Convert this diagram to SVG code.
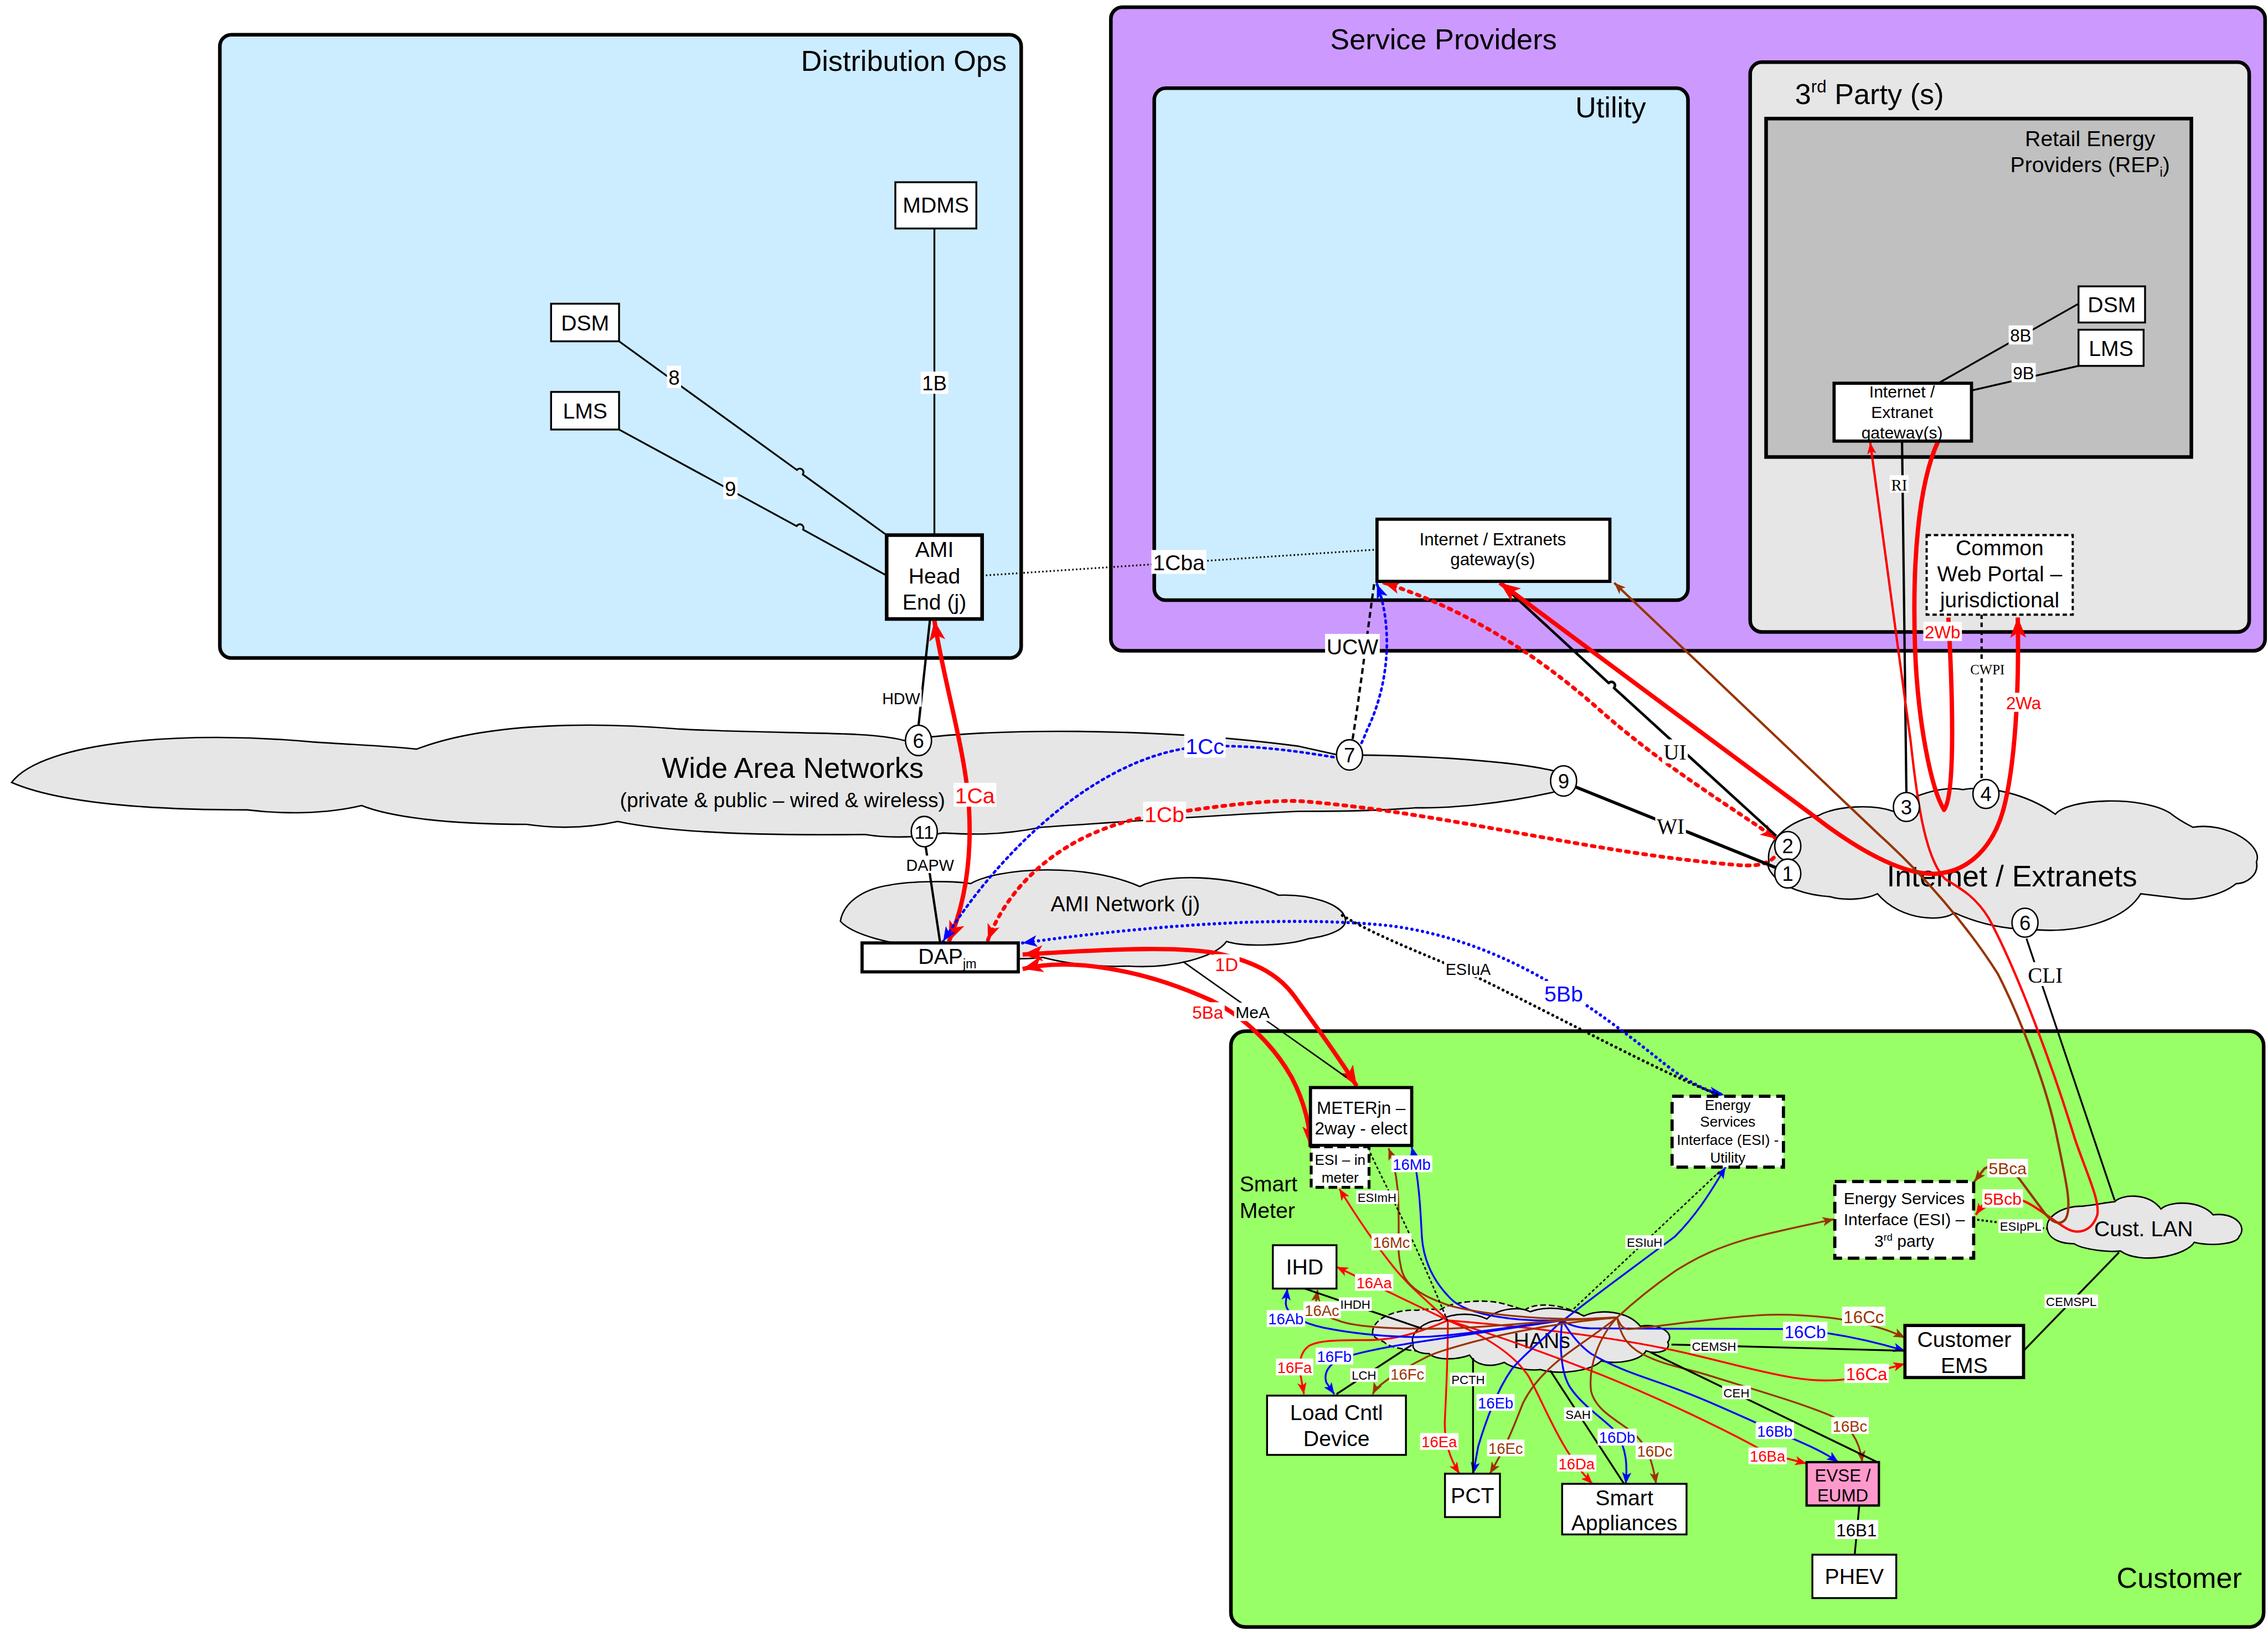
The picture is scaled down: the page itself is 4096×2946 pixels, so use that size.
<svg xmlns="http://www.w3.org/2000/svg" width="4096" height="2946" viewBox="0 0 4096 2946">
<defs>
<style>
text{font-family:"Liberation Sans",Arial,sans-serif;text-anchor:middle;fill:#000}
.sf{font-family:"Liberation Serif","Times New Roman",serif}
.st{text-anchor:start}
.en{text-anchor:end}
.bx{fill:#fff;stroke:#000;stroke-width:1.3}
.bt{fill:#fff;stroke:#000;stroke-width:2.2}
.bd{fill:#fff;stroke:#000;stroke-width:2.2;stroke-dasharray:8 4}
.cl{fill:#e6e6e6;stroke:#000;stroke-width:1}
.ct{stroke:#000;stroke-width:2.5}
.c{fill:none;stroke-linejoin:round}
.k{stroke:#000}.r{stroke:#f00}.b{stroke:#00f}.w{stroke:#930}
.t1{stroke-width:1.25}.t2{stroke-width:1.6}.t3{stroke-width:3}.tl{stroke-width:1.6}
.dt{stroke-dasharray:2 1.5;stroke-width:1}
.lb{fill:#fff}
.fr{fill:#f00}.fb{fill:#00f}.fw{fill:#930}
.nd{fill:#fff;stroke:#000;stroke-width:1}
</style>
<marker id="ar" viewBox="0 0 10 8" refX="10" refY="4" markerWidth="8" markerHeight="6.4" orient="auto-start-reverse" markerUnits="userSpaceOnUse"><path d="M0,0L10,4L0,8L2.5,4z" fill="#f00"/></marker>
<marker id="ab" viewBox="0 0 10 8" refX="10" refY="4" markerWidth="8" markerHeight="6.4" orient="auto-start-reverse" markerUnits="userSpaceOnUse"><path d="M0,0L10,4L0,8L2.5,4z" fill="#00f"/></marker>
<marker id="aw" viewBox="0 0 10 8" refX="10" refY="4" markerWidth="8" markerHeight="6.4" orient="auto-start-reverse" markerUnits="userSpaceOnUse"><path d="M0,0L10,4L0,8L2.5,4z" fill="#930"/></marker>
<marker id="AR" viewBox="0 0 10 8" refX="10" refY="4" markerWidth="14" markerHeight="11.2" orient="auto-start-reverse" markerUnits="userSpaceOnUse"><path d="M0,0L10,4L0,8L2.5,4z" fill="#f00"/></marker>
<marker id="RD" viewBox="0 0 10 8" refX="10" refY="4" markerWidth="11" markerHeight="8.8" orient="auto-start-reverse" markerUnits="userSpaceOnUse"><path d="M0,0L10,4L0,8L2.5,4z" fill="#f00"/></marker>
<marker id="BD" viewBox="0 0 10 8" refX="10" refY="4" markerWidth="10" markerHeight="8" orient="auto-start-reverse" markerUnits="userSpaceOnUse"><path d="M0,0L10,4L0,8L2.5,4z" fill="#00f"/></marker>
</defs>
<rect width="4096" height="2946" fill="#fff"/>
<g transform="scale(2.612245)">

<g id="containers">
<g id="distribution-ops"><rect x="152" y="24" width="554" height="431" rx="8" fill="#CCECFF" class="ct"/><text x="696" y="49" font-size="20" class="en">Distribution Ops</text></g>
<g id="service-providers"><rect x="768" y="5" width="798" height="445" rx="8" fill="#CC99FF" class="ct"/><text x="998" y="34" font-size="20">Service Providers</text></g>
<g id="utility"><rect x="798" y="61" width="369" height="354" rx="8" fill="#CCECFF" class="ct"/><text x="1138" y="81" font-size="20" class="en">Utility</text></g>
<g id="third-party"><rect x="1210" y="43" width="345" height="394" rx="8" fill="#E6E6E6" class="ct"/><text x="1241" y="72" font-size="20" class="st">3<tspan font-size="12" dy="-8">rd</tspan><tspan dy="8"> Party (s)</tspan></text></g>
<g id="rep"><rect x="1221" y="82" width="294" height="234" fill="#C0C0C0" class="ct"/><text x="1445" y="101" font-size="15">Retail Energy</text><text x="1445" y="119" font-size="15">Providers (REP<tspan font-size="9" dy="3">i</tspan><tspan dy="-3">)</tspan></text></g>
<g id="customer"><rect x="851" y="713" width="714" height="412" rx="10" fill="#99FF66" class="ct"/><text x="1550" y="1098" font-size="20" class="en">Customer</text><text x="857" y="824" font-size="15" class="st">Smart</text><text x="857" y="842" font-size="15" class="st">Meter</text></g>
</g>

<g id="clouds">
<g id="wan"><path class="cl" d="M8,541C30,512 130,505 216,513C245,515 270,516 288,518C340,498 420,500 468,504C540,508 600,505 625,512C680,503 800,503 898,516L925,522C990,522 1050,527 1074,533C1085,535 1092,541 1077,547C1040,556 1000,559 979,558.5C950,561 920,561 898,561C850,563 780,568 720,572C690,578 670,577 652,576C630,580 610,579 598,577C520,578 460,575 427,568C405,573 385,573 364,570C310,570 270,565 250,557C225,563 195,563 171,560C100,560 40,555 8,541Z"/>
<text x="548" y="538" font-size="20">Wide Area Networks</text><text x="541" y="558" font-size="14.2">(private &amp; public – wired &amp; wireless)</text></g>
<g id="internet"><path class="cl" d="M1223,596C1220,580 1240,566 1257,564C1270,557 1295,556 1309,561C1318,550 1345,543 1357,546C1372,543 1400,548 1421,563C1430,552 1480,550 1500,562C1505,566 1512,570 1516,572C1540,568 1565,585 1560,596C1562,605 1553,611 1546,611C1535,620 1515,623 1505,621L1480,618C1470,635 1440,645 1409,643C1390,643 1370,640 1351,631C1345,637 1315,638 1298,618C1290,622 1275,623 1265,620C1250,619 1232,614 1225,604C1222,600 1222,598 1223,596Z"/>
<text x="1391" y="613" font-size="20.5">Internet / Extranets</text></g>
<g id="ami-network"><path class="cl" d="M581,637C583,625 595,615 615,612C630,609 660,609 671,611C690,600 750,596 788,613C805,604 850,604 884,619C905,618 928,625 930,635C932,642 920,647 905,649C890,654 860,655 848,651C840,662 810,670 780,668C760,669 735,666 721,662C700,665 660,660 640,656C615,652 590,647 581,637Z"/>
<text x="778" y="630" font-size="15">AMI Network (j)</text></g>
<g id="hans"><path class="cl" stroke-dasharray="4 2" d="M949,922C948,912 965,905 980,906C985,905 992,905 995,906C1005,899 1030,898 1041,902C1046,903 1051,905 1054,906C1060,901 1075,901 1089,907C1098,910 1100,915 1098,920L1060,935L990,935C975,934 960,932 957,928C952,926 949,924 949,922Z"/>
<path class="cl" d="M977,929C974,922 985,913 995,913C1005,907 1020,908 1028,912C1035,905 1050,903 1058,907C1068,903 1085,904 1095,910C1105,905 1125,906 1134,917C1148,915 1158,922 1153,928C1156,934 1145,937 1138,934C1135,940 1120,944 1107,941C1100,948 1078,951 1065,947C1058,948 1045,946 1040,942C1030,946 1020,944 1016,937C1005,941 992,940 988,936C980,936 976,933 977,929Z"/>
<text x="1066" y="932" font-size="15">HANs</text></g>
<g id="cust-lan"><path class="cl" d="M1416,852C1412,842 1425,834 1440,834C1450,833 1458,831 1462,831C1466,826 1485,824 1494,836C1500,830 1522,830 1530,840C1545,838 1554,848 1548,855C1547,860 1530,862 1517,859C1512,868 1480,875 1466,865C1458,866 1440,864 1434,860C1425,860 1418,857 1416,852Z"/>
<text x="1482" y="855" font-size="15">Cust. LAN</text></g>
</g>

<g id="connectors">
<path class="c k t1" d="M646,158L646,370"/>
<path class="c k t1" d="M428,236L551,325A2.5,2.5 0 0 1 555,328L613,370"/>
<path class="c k t1" d="M428,297L550.8,363.8A2.5,2.5 0 0 1 555.2,366.2L613,398"/>
<path class="c k" stroke-width="1.2" stroke-dasharray="1 1.6" d="M679,398L952,380"/>
<path class="c k t1" d="M1340,265L1437,210"/>
<path class="c k t1" d="M1363,270L1437,253"/>
<path class="c k t2" d="M1315,305L1318,548"/>
<path class="c k t2" stroke-dasharray="3 2.5" d="M1370,425L1370,539"/>
<path class="c k t2" d="M643,428L635,502"/>
<path class="c k t2" d="M640,585.5L650,652"/>
<path class="c r t3" marker-start="url(#AR)" marker-end="url(#AR)" d="M646,429C652,470 668,520 670,560C672,600 665,630 656,651"/>
<path class="c b" stroke-width="1.8" stroke-dasharray="1.5 2.8" stroke-linecap="round" marker-start="url(#BD)" marker-end="url(#BD)" d="M952,404C962,430 962,470 945,505C940,518 936,526 925,524C900,520 870,515 833,516C760,520 690,590 652,651"/>
<path class="c k t2" stroke-dasharray="4 2.5" d="M950,404C945,440 940,480 935,512"/>
<path class="c r" stroke-width="2.6" stroke-dasharray="2 4" stroke-linecap="round" marker-start="url(#RD)" marker-end="url(#RD)" d="M957,403C1010,420 1060,450 1106,491C1150,530 1200,560 1228,580"/>
<path class="c r" stroke-width="2.6" stroke-dasharray="2 4" stroke-linecap="round" marker-start="url(#RD)" d="M683,650C700,605 745,570 805,563C850,556 880,553 900,554C1000,562 1100,590 1200,598C1220,600 1228,595 1230,586"/>
<path class="c k" stroke-width="1.8" d="M1037,403L1112.2,472.3A2.5,2.5 0 0 1 1115.9,475.7L1228,578"/>
<path class="c k" stroke-width="2.2" d="M1089,544L1228,600"/>
<path class="c r t3" marker-start="url(#AR)" marker-end="url(#AR)" d="M1037,403L1255,565C1290,592 1320,606 1340,604C1362,602 1378,585 1385,560C1393,530 1396,480 1395,427"/>
<path class="c r t3" marker-end="url(#AR)" d="M1340,305C1326,335 1322,390 1324,449C1326,500 1335,545 1344,560C1352,550 1350,480 1347,427"/>
<path class="c r tl" marker-start="url(#ar)" marker-end="url(#ar)" d="M1293,306L1321,513C1326,560 1332,595 1345,608C1355,614 1366,620 1375,635C1395,672 1420,740 1434,786C1442,810 1452,830 1450,840C1446,852 1436,854 1428,849C1418,843 1408,834 1398,830C1388,826 1376,828 1370,834L1366,840"/>
<path class="c w tl" marker-start="url(#aw)" marker-end="url(#aw)" d="M1116,403L1300,578C1330,605 1360,640 1381,673C1395,700 1415,750 1422,786C1428,815 1433,835 1428,843C1424,848 1418,845 1413,838L1396,815C1390,808 1380,804 1372,808L1365,817"/>
<path class="c k t1" d="M1401,649L1462,830"/>
<path class="c b" stroke-width="2.2" stroke-dasharray="0.1 3.6" stroke-linecap="round" marker-start="url(#BD)" marker-end="url(#BD)" d="M707,652C780,642 880,632 960,640C1040,650 1100,695 1150,735C1165,747 1180,755 1192,757"/>
<path class="c k" stroke-width="2" stroke-dasharray="0.1 3.4" stroke-linecap="round" d="M928,633C960,652 1000,665 1030,680C1100,715 1150,742 1188,757"/>
<path class="c r t3" marker-start="url(#AR)" marker-end="url(#AR)" d="M707,660C770,656 820,654 845,660C870,666 885,675 895,689C910,710 925,730 938,751"/>
<path class="c r t3" marker-start="url(#AR)" marker-end="url(#AR)" d="M707,670C740,662 790,670 838,692C862,704 882,725 893,745C902,762 906,780 906,793"/>
<path class="c k" stroke-width="1" d="M818,665L931,745"/>

<path class="c r t1" marker-end="url(#ar)" d="M1001,913C985,898 975,890 965,878C952,862 940,845 926,822"/>
<path class="c r t1" marker-end="url(#ar)" d="M1001,913L924,876"/>
<path class="c r t1" marker-end="url(#ar)" d="M1001,913C980,922 965,926 950,926.5C930,927 915,926 906,930C899,934 898,942 899,950L901.5,964"/>
<path class="c r t1" marker-end="url(#ar)" d="M1001,913C1001,940 1000,960 999,980C998,995 1002,1008 1009,1019"/>
<path class="c r t1" marker-end="url(#ar)" d="M1001,913C1030,925 1048,938 1057,952C1068,972 1080,1005 1101,1026"/>
<path class="c r t1" marker-end="url(#ar)" d="M1001,913C1040,925 1080,940 1108,951C1150,968 1200,992 1222,1005L1249,1012"/>
<path class="c r t1" marker-end="url(#ar)" d="M1001,913C1060,918 1110,924 1149,932C1200,942 1245,960 1280,953L1317,943"/>

<path class="c b t1" marker-end="url(#ab)" d="M1080,913C1050,914 1015,910 1003,898C990,885 984,870 983,855C982,835 981,815 976,793"/>
<path class="c b t1" marker-end="url(#ab)" d="M1080,913C1040,918 1000,925 977,924.5C955,924 935,922 915,918C900,915 888,908 889,900L890,891"/>
<path class="c b t1" marker-end="url(#ab)" d="M1080,913C1040,919 1000,925 977,928.5C955,932 940,935 928,939C918,943 915,950 917,956L922.5,964"/>
<path class="c b t1" marker-end="url(#ab)" d="M1080,913C1065,928 1052,938 1045,947C1036,960 1028,980 1022,1000L1018.5,1019"/>
<path class="c b t1" marker-end="url(#ab)" d="M1080,913C1078,930 1079,950 1086,960C1095,973 1110,982 1117,990C1125,1002 1125,1014 1124,1026"/>
<path class="c b t1" marker-end="url(#ab)" d="M1080,913C1088,926 1094,932 1100,936C1120,948 1140,953 1158,960C1185,970 1205,980 1227,989.5C1240,995 1258,1002 1271,1011"/>
<path class="c b t1" marker-end="url(#ab)" d="M1080,913C1086,917 1092,918.5 1100,918.5L1233,919C1260,920 1290,926 1317,934"/>
<path class="c b t1" marker-end="url(#ab)" d="M1082,912C1100,898 1135,872 1158,855C1175,838 1185,820 1193,807"/>

<path class="c w t1" marker-end="url(#aw)" d="M1118,911C1080,914 1030,910 1003,903C985,897 972,890 969,878C966,866 967,860 967,850C967,830 967,812 960,794"/>
<path class="c w t1" marker-end="url(#aw)" d="M1118,911C1080,912 1040,917 1003,918.6C980,919 965,918.5 957,918C940,917 930,915 925,913C915,910 909,905 910,898L911,892"/>
<path class="c w t1" marker-end="url(#aw)" d="M1118,911C1080,914 1040,922 1018,928C1000,933 990,936 985,939C975,944 970,947 962,952C955,957 951,960 949,964"/>
<path class="c w t1" marker-end="url(#aw)" d="M1118,911C1100,925 1085,934 1076,942C1064,952 1057,962 1053,970C1047,985 1043,997 1030,1019"/>
<path class="c w t1" marker-end="url(#aw)" d="M1118,911C1105,925 1098,945 1100,962C1103,975 1118,982 1128,990C1138,998 1142,1008 1145,1026"/>
<path class="c w t1" marker-end="url(#aw)" d="M1118,911C1120,922 1124,930 1135,936C1150,944 1165,946 1178,950C1210,960 1245,970 1266,979C1280,986 1286,998 1287.5,1011"/>
<path class="c w t1" marker-end="url(#aw)" d="M1118,911C1120,916 1122,919 1126,919C1150,917 1200,909 1229,909C1260,909 1295,914 1317,925"/>
<path class="c w t1" marker-end="url(#aw)" d="M1118,911C1132,898 1145,888 1158,879C1175,868 1190,862 1207,857C1225,852 1245,848 1268,843"/>

<path class="c k t1" d="M902,891L983,918.6"/>
<path class="c k t1" d="M924,964L976,930"/>
<path class="c k t1" d="M1018.4,939L1018.4,1019"/>
<path class="c k t1" d="M1071.7,947.6L1122.8,1026"/>
<path class="c k t1" d="M1155.6,929.7L1317,934"/>
<path class="c k t1" d="M1141,935L1298.7,1011.4"/>
<path class="c k t1" d="M1285.4,1041.3L1282.3,1074.6"/>
<path class="c k dt" d="M1088,905L1190,809"/>
<path class="c k dt" d="M946,794C955,815 975,850 1001,914"/>
<path class="c k" stroke-width="1.4" stroke-dasharray="1.5 1.5" d="M1364,843L1415,849.5"/>
<path class="c k t1" d="M1399,934L1465,866"/>
</g>

<g id="nodes">
<g id="mdms"><rect class="bx" x="619" y="126" width="56" height="32"/><text x="647" y="147" font-size="15">MDMS</text></g>
<g id="dsm"><rect class="bx" x="381" y="210" width="47" height="26"/><text x="404.5" y="228.5" font-size="15">DSM</text></g>
<g id="lms"><rect class="bx" x="381" y="271" width="47" height="26"/><text x="404.5" y="289.5" font-size="15">LMS</text></g>
<g id="ami-head-end"><rect fill="#fff" stroke="#000" stroke-width="2.5" x="613" y="370" width="66" height="58"/><text x="646" y="385.3" font-size="15">AMI</text><text x="646" y="403.3" font-size="15">Head</text><text x="646" y="421.3" font-size="15">End (j)</text></g>
<g id="utility-gateway"><rect class="bt" x="952" y="359" width="161" height="43"/><text x="1032" y="377" font-size="12">Internet / Extranets</text><text x="1032" y="391" font-size="12">gateway(s)</text></g>
<g id="rep-dsm"><rect class="bx" x="1437" y="198" width="46" height="25"/><text x="1460" y="216" font-size="15">DSM</text></g>
<g id="rep-lms"><rect class="bx" x="1437" y="228" width="45" height="25"/><text x="1459.5" y="246" font-size="15">LMS</text></g>
<g id="rep-gateway"><rect class="bt" x="1268" y="265" width="95" height="40"/><text x="1315" y="275" font-size="11.5">Internet /</text><text x="1315" y="289" font-size="11.5">Extranet</text><text x="1315" y="303" font-size="11.5">gateway(s)</text></g>
<g id="common-web-portal"><rect fill="#fff" stroke="#000" stroke-width="1.5" stroke-dasharray="3 2" x="1332" y="370" width="101" height="55"/><text x="1382.5" y="384" font-size="15">Common</text><text x="1382.5" y="402" font-size="15">Web Portal –</text><text x="1382.5" y="420" font-size="15">jurisdictional</text></g>
<g id="dap"><rect class="bt" x="596" y="652" width="108" height="20"/><text x="655" y="666.5" font-size="15">DAP<tspan font-size="9" dy="3">jm</tspan></text></g>
<g id="meter"><rect class="bt" x="906" y="752" width="70" height="40"/><text x="941" y="770.2" font-size="12">METERjn –</text><text x="941" y="784.2" font-size="12">2way - elect</text></g>
<g id="esi-in-meter"><rect fill="#fff" stroke="#000" stroke-width="2" stroke-dasharray="6 3" x="906.5" y="793" width="40" height="28"/><text x="926.5" y="805.5" font-size="10">ESI – in</text><text x="926.5" y="817.5" font-size="10">meter</text></g>
<g id="ihd"><rect class="bx" x="880" y="861" width="44" height="30"/><text x="902" y="881.3" font-size="15">IHD</text></g>
<g id="load-cntl"><rect class="bx" stroke-width="1.5" x="876" y="965" width="96" height="41"/><text x="924" y="982" font-size="15">Load Cntl</text><text x="924" y="1000" font-size="15">Device</text></g>
<g id="pct"><rect class="bx" stroke-width="1.5" x="999" y="1019" width="38" height="30"/><text x="1018" y="1039.3" font-size="15">PCT</text></g>
<g id="smart-appliances"><rect class="bx" stroke-width="1.5" x="1080" y="1026" width="86" height="35"/><text x="1123" y="1041" font-size="15">Smart</text><text x="1123" y="1058" font-size="15">Appliances</text></g>
<g id="evse"><rect fill="#FF99CC" stroke="#000" stroke-width="1.6" x="1249" y="1011" width="50" height="30"/><text x="1274" y="1024.3" font-size="12">EVSE /</text><text x="1274" y="1038.3" font-size="12">EUMD</text></g>
<g id="phev"><rect class="bx" stroke-width="1.5" x="1253" y="1075" width="58" height="30"/><text x="1282" y="1095.3" font-size="15">PHEV</text></g>
<g id="esi-utility"><rect class="bd" x="1156" y="758" width="77" height="49"/><text x="1194.5" y="767.5" font-size="10">Energy</text><text x="1194.5" y="779.2" font-size="10">Services</text><text x="1194.5" y="791.5" font-size="10">Interface (ESI) -</text><text x="1194.5" y="804" font-size="10">Utility</text></g>
<g id="esi-third-party"><rect class="bd" x="1268.5" y="817" width="96" height="53"/><text x="1316.5" y="832.5" font-size="11.5">Energy Services</text><text x="1316.5" y="847.3" font-size="11.5">Interface (ESI) –</text><text x="1316.5" y="862" font-size="11.5">3<tspan font-size="7" dy="-4">rd</tspan><tspan dy="4"> party</tspan></text></g>
<g id="customer-ems"><rect class="bt" x="1317" y="916.5" width="82" height="36"/><text x="1358" y="931.3" font-size="15">Customer</text><text x="1358" y="949.3" font-size="15">EMS</text></g>
</g>

<g id="hubs">
<g id="wan-6"><ellipse class="nd" cx="635" cy="512" rx="9" ry="10.5"/><text x="635" y="517" font-size="14">6</text></g>
<g id="wan-11"><ellipse class="nd" cx="639" cy="575" rx="9" ry="10.5"/><text x="639" y="580" font-size="13">11</text></g>
<g id="wan-7"><ellipse class="nd" cx="933" cy="522" rx="9" ry="10.5"/><text x="933" y="527" font-size="14">7</text></g>
<g id="wan-9"><ellipse class="nd" cx="1081" cy="540" rx="9" ry="10.5"/><text x="1081" y="545" font-size="14">9</text></g>
<g id="inet-2"><ellipse class="nd" cx="1236" cy="585" rx="9" ry="10"/><text x="1236" y="590" font-size="14">2</text></g>
<g id="inet-1"><ellipse class="nd" cx="1236" cy="604" rx="9" ry="10"/><text x="1236" y="609" font-size="14">1</text></g>
<g id="inet-3"><ellipse class="nd" cx="1318" cy="558" rx="9" ry="10"/><text x="1318" y="563" font-size="14">3</text></g>
<g id="inet-4"><ellipse class="nd" cx="1373" cy="549" rx="9" ry="10"/><text x="1373" y="554" font-size="14">4</text></g>
<g id="inet-6"><ellipse class="nd" cx="1400" cy="638" rx="9" ry="10"/><text x="1400" y="643" font-size="14">6</text></g>
</g>

<g id="labels">
<rect class="lb" x="461.1" y="252.9" width="9.8" height="15.4"/><text x="466" y="266" font-size="14">8</text>
<rect class="lb" x="500.1" y="329.9" width="9.8" height="15.4"/><text x="505" y="343" font-size="14">9</text>
<rect class="lb" x="636.5" y="256.9" width="19.1" height="15.4"/><text x="646" y="270" font-size="14">1B</text>
<rect class="lb" x="796" y="380.3" width="38" height="16.5"/><text x="815" y="394.4" font-size="15">1Cba</text>
<rect class="lb" x="1388.7" y="225" width="16.7" height="13.2"/><text x="1397" y="236.3" font-size="12">8B</text>
<rect class="lb" x="1390.7" y="251" width="16.7" height="13.2"/><text x="1399" y="262.3" font-size="12">9B</text>
<rect class="lb" x="1306.5" y="328.6" width="13" height="12.1"/><text x="1313" y="339" font-size="11" class="sf">RI</text>
<rect class="lb" x="1329.7" y="430" width="26.7" height="13.2"/><text x="1343" y="441.3" font-size="12" class="fr">2Wb</text>
<rect class="lb" x="1361.1" y="457.5" width="25.8" height="10.5"/><text x="1374" y="466.4" font-size="9.5" class="sf">CWPI</text>
<rect class="lb" x="1385.7" y="479" width="26.7" height="13.2"/><text x="1399" y="490.3" font-size="12" class="fr">2Wa</text>
<rect class="lb" x="916.1" y="438.3" width="37.8" height="16.5"/><text x="935" y="452.4" font-size="15">UCW</text>
<rect class="lb" x="608.9" y="476.6" width="28.3" height="12.1"/><text x="623" y="487" font-size="11">HDW</text>
<rect class="lb" x="818.7" y="507.3" width="28.7" height="16.5"/><text x="833" y="521.4" font-size="15" class="fb">1Cc</text>
<rect class="lb" x="659.3" y="541.3" width="29.5" height="16.5"/><text x="674" y="555.4" font-size="15" class="fr">1Ca</text>
<rect class="lb" x="1149.1" y="511.3" width="17.8" height="16.5"/><text x="1158" y="525.4" font-size="15" class="sf">UI</text>
<rect class="lb" x="1144.4" y="562.3" width="21.2" height="16.5"/><text x="1155" y="576.4" font-size="15" class="sf">WI</text>
<rect class="lb" x="790.3" y="554.3" width="29.5" height="16.5"/><text x="805" y="568.4" font-size="15" class="fr">1Cb</text>
<rect class="lb" x="625.5" y="591.6" width="35" height="12.1"/><text x="643" y="602" font-size="11">DAPW</text>
<rect class="lb" x="1400.9" y="665.3" width="26.2" height="16.5"/><text x="1414" y="679.4" font-size="15" class="sf">CLI</text>
<rect class="lb" x="839" y="659.8" width="18" height="13.8"/><text x="848" y="671.5" font-size="12.5" class="fr">1D</text>
<rect class="lb" x="823.4" y="693" width="23.3" height="13.2"/><text x="835" y="704.3" font-size="12" class="fr">5Ba</text>
<rect class="lb" x="853.2" y="693.3" width="25.6" height="12.7"/><text x="866" y="704.1" font-size="11.5">MeA</text>
<rect class="lb" x="998.4" y="663.6" width="33.2" height="12.1"/><text x="1015" y="674" font-size="11">ESIuA</text>
<rect class="lb" x="1066.7" y="678.3" width="28.7" height="16.5"/><text x="1081" y="692.4" font-size="15" class="fb">5Bb</text>

<rect class="lb" x="961.9" y="798.9" width="28.3" height="11.6"/><text x="976" y="808.8" font-size="10.5" class="fb">16Mb</text>
<rect class="lb" x="937.6" y="823.1" width="28.9" height="9.4"/><text x="952" y="831.1" font-size="8.5">ESImH</text>
<rect class="lb" x="948.2" y="852.9" width="27.7" height="11.6"/><text x="962" y="862.8" font-size="10.5" class="fw">16Mc</text>
<rect class="lb" x="936.8" y="880.9" width="26.5" height="11.6"/><text x="950" y="890.8" font-size="10.5" class="fr">16Aa</text>
<rect class="lb" x="901.1" y="899.9" width="25.9" height="11.6"/><text x="914" y="909.8" font-size="10.5" class="fw">16Ac</text>
<rect class="lb" x="925.6" y="897.1" width="22.8" height="9.4"/><text x="937" y="905.1" font-size="8.5">IHDH</text>
<rect class="lb" x="875.8" y="905.9" width="26.5" height="11.6"/><text x="889" y="915.8" font-size="10.5" class="fb">16Ab</text>
<rect class="lb" x="882.1" y="939.4" width="25.9" height="11.6"/><text x="895" y="949.3" font-size="10.5" class="fr">16Fa</text>
<rect class="lb" x="909.6" y="931.9" width="25.9" height="11.6"/><text x="922.5" y="941.8" font-size="10.5" class="fb">16Fb</text>
<rect class="lb" x="933.5" y="946.1" width="19" height="9.4"/><text x="943" y="954.1" font-size="8.5">LCH</text>
<rect class="lb" x="960.4" y="943.9" width="25.3" height="11.6"/><text x="973" y="953.8" font-size="10.5" class="fw">16Fc</text>
<rect class="lb" x="1002.5" y="949.1" width="25.1" height="9.4"/><text x="1015" y="957.1" font-size="8.5">PCTH</text>
<rect class="lb" x="981.8" y="990.9" width="26.5" height="11.6"/><text x="995" y="1000.8" font-size="10.5" class="fr">16Ea</text>
<rect class="lb" x="1020.8" y="963.9" width="26.5" height="11.6"/><text x="1034" y="973.8" font-size="10.5" class="fb">16Eb</text>
<rect class="lb" x="1028.1" y="995.4" width="25.9" height="11.6"/><text x="1041" y="1005.3" font-size="10.5" class="fw">16Ec</text>
<rect class="lb" x="1081.3" y="973.1" width="19.5" height="9.4"/><text x="1091" y="981.1" font-size="8.5">SAH</text>
<rect class="lb" x="1076.5" y="1005.9" width="27.1" height="11.6"/><text x="1090" y="1015.8" font-size="10.5" class="fr">16Da</text>
<rect class="lb" x="1104.5" y="987.9" width="27.1" height="11.6"/><text x="1118" y="997.8" font-size="10.5" class="fb">16Db</text>
<rect class="lb" x="1130.8" y="997.4" width="26.5" height="11.6"/><text x="1144" y="1007.3" font-size="10.5" class="fw">16Dc</text>
<rect class="lb" x="1190.6" y="958.1" width="19.9" height="9.4"/><text x="1200.5" y="966.1" font-size="8.5">CEH</text>
<rect class="lb" x="1213.8" y="983.4" width="26.5" height="11.6"/><text x="1227" y="993.3" font-size="10.5" class="fb">16Bb</text>
<rect class="lb" x="1208.8" y="1000.9" width="26.5" height="11.6"/><text x="1222" y="1010.8" font-size="10.5" class="fr">16Ba</text>
<rect class="lb" x="1266.1" y="979.9" width="25.9" height="11.6"/><text x="1279" y="989.8" font-size="10.5" class="fw">16Bc</text>
<rect class="lb" x="1268.5" y="1051" width="30" height="13.2"/><text x="1283.5" y="1062.3" font-size="12">16B1</text>
<rect class="lb" x="1168.7" y="926.1" width="32.7" height="9.4"/><text x="1185" y="934.1" font-size="8.5">CEMSH</text>
<rect class="lb" x="1232.7" y="914" width="30.7" height="13.2"/><text x="1248" y="925.3" font-size="12" class="fb">16Cb</text>
<rect class="lb" x="1273.5" y="903.5" width="30" height="13.2"/><text x="1288.5" y="914.8" font-size="12" class="fw">16Cc</text>
<rect class="lb" x="1275.2" y="943" width="30.7" height="13.2"/><text x="1290.5" y="954.3" font-size="12" class="fr">16Ca</text>
<rect class="lb" x="1123.7" y="854.1" width="26.6" height="9.4"/><text x="1137" y="862.1" font-size="8.5">ESIuH</text>
<rect class="lb" x="1373.9" y="801.3" width="28.2" height="12.7"/><text x="1388" y="812.1" font-size="11.5" class="fw">5Bca</text>
<rect class="lb" x="1370.4" y="822.3" width="28.2" height="12.7"/><text x="1384.5" y="833.1" font-size="11.5" class="fr">5Bcb</text>
<rect class="lb" x="1381.6" y="843.1" width="30.8" height="9.4"/><text x="1397" y="851.1" font-size="8.5">ESIpPL</text>
<rect class="lb" x="1413.5" y="895.1" width="37" height="9.4"/><text x="1432" y="903.1" font-size="8.5">CEMSPL</text>
</g>
</g>
</svg>
